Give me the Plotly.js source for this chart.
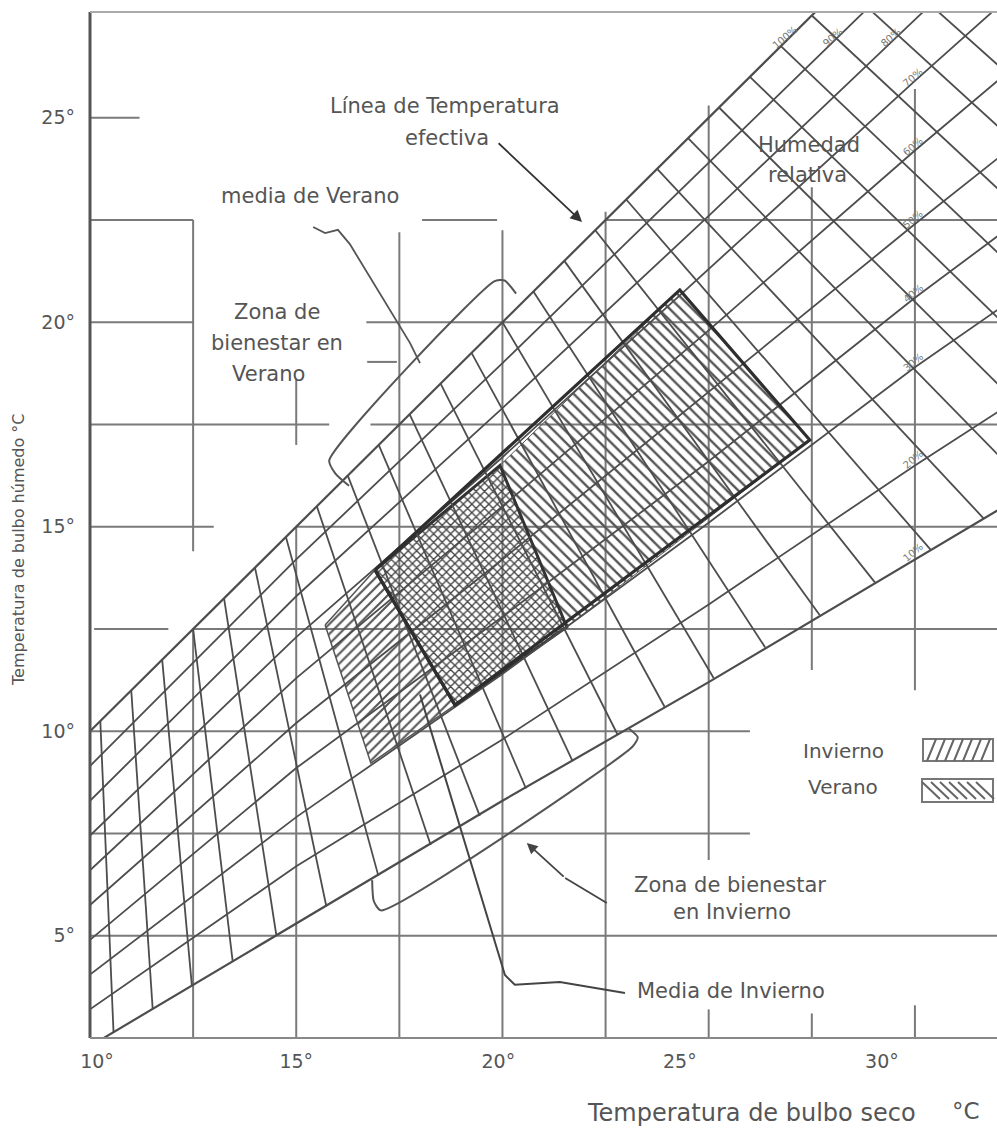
<!DOCTYPE html>
<html><head><meta charset="utf-8">
<script src="https://cdn.plot.ly/plotly-3.0.1.min.js"></script>
<style>html,body{margin:0;padding:0;background:#fff;}#chart{width:997px;height:1137px;}</style>
</head><body><div id="chart"></div>
<script>
// ---------- DATA ----------
// dry-bulb sample points for the relative-humidity curves
const dbSamples = [10, 15, 20, 25, 30, 32];
const rhLevels = [100, 90, 80, 70, 60, 50, 40, 30, 20, 10];
// wet-bulb temperature of each RH curve at dbSamples
const rh100 = [10.0, 15.0, 20.0, 25.0, 30.0, 32.0];
const rh90  = [9.15, 14.2, 19.0, 23.9, 28.8, 30.7];
const rh80  = [8.3, 13.3, 17.9, 22.6, 27.4, 29.3];
const rh70  = [7.45, 12.3, 16.7, 21.3, 25.9, 27.7];
const rh60  = [6.6, 11.3, 15.5, 19.8, 24.2, 25.9];
const rh50  = [5.75, 10.2, 14.2, 18.3, 22.4, 24.0];
const rh40  = [4.9, 9.1, 12.8, 16.6, 20.6, 22.1];
const rh30  = [4.05, 7.9, 11.4, 15.1, 18.9, 20.3];
const rh20  = [3.2, 6.7, 9.8, 13.1, 16.5, 17.8];
const rh10  = [2.3, 5.3, 8.3, 11.2, 14.2, 15.4];

// effective-temperature lines: start on saturation (t,t), end on the 10% curve
const etStart = [10.25, 11, 11.75, 12.5, 13.25, 14, 14.75, 15.5, 16.25, 17, 17.75, 18.5, 19.25, 20, 20.75, 21.5, 22.25, 23, 23.75, 24.5, 25.25, 26, 26.75, 27.5, 28.25, 29];
const etEndX = [10.57, 11.52, 12.47, 13.46, 14.52, 15.73, 16.99, 18.26, 19.45, 20.57, 21.70, 22.79, 23.93, 25.12, 26.37, 27.69, 29.03, 30.38, 31.67, 32.85, 33.94, 35.00, 36.06, 37.13, 38.21, 39.29];
const etEndY = [2.65, 3.21, 3.78, 4.37, 5.00, 5.72, 6.47, 7.22, 7.93, 8.60, 9.27, 9.92, 10.60, 11.30, 12.05, 12.84, 13.64, 14.44, 15.20, 15.90, 16.56, 17.18, 17.81, 18.45, 19.09, 19.74];

// comfort zones (corners, dry bulb / wet bulb)
const summerX = [16.91, 24.30, 27.45, 18.85];
const summerY = [13.94, 20.79, 17.12, 10.64];
const summerOnlyX = [19.94, 24.30, 27.45, 21.56];
const summerOnlyY = [16.50, 20.79, 17.12, 12.55];
const overlapX = [16.91, 19.94, 21.56, 18.85];
const overlapY = [13.94, 16.50, 12.55, 10.64];
const winterOnlyX = [15.70, 16.91, 18.85, 16.81];
const winterOnlyY = [12.60, 13.94, 10.64, 9.22];

// brackets
const summerBracketX = [16.28, 15.95, 15.80, 19.80, 20.05, 20.33];
const summerBracketY = [16.00, 16.30, 16.62, 21.00, 21.02, 20.70];
const winterBracketX = [16.84, 16.88, 17.05, 23.15, 23.28, 23.05];
const winterBracketY = [6.36, 5.85, 5.62, 9.62, 9.85, 10.08];

// leader lines
const mediaVeranoX = [15.41, 15.70, 16.01, 16.30, 17.76, 18.00];
const mediaVeranoY = [22.33, 22.18, 22.26, 21.91, 19.49, 19.00];
const mediaInviernoX = [22.97, 21.39, 20.30, 20.06, 18.00];
const mediaInviernoY = [3.60, 3.87, 3.80, 4.04, 10.90];
const zonaInviernoX = [22.53, 21.52];
const zonaInviernoY = [5.80, 6.41];
const stubX = [16.72, 17.44];
const stubY = [19.03, 19.03];

// background grid segments
const hGridY  = [25, 22.5, 22.5, 22.5, 20, 20, 17.5, 17.5, 15, 15, 12.5, 12.5, 10, 7.5, 5];
const hGridX0 = [10, 10, 18.05, 22.5, 10, 16.7, 10, 16.8, 10, 15, 10.1, 12.5, 10, 10, 10];
const hGridX1 = [11.2, 12.5, 19.87, 32, 12.5, 32, 15.8, 32, 13.0, 32, 11.9, 32, 26.0, 26.0, 32];
const vGridX  = [12.5, 12.5, 15, 15, 17.5, 20, 22.5, 25, 25, 27.5, 27.5, 30, 30];
const vGridY0 = [14.4, 2.5, 17.0, 2.5, 2.5, 2.5, 2.5, 6.85, 2.5, 11.5, 2.5, 11.0, 2.5];
const vGridY1 = [22.5, 12.5, 18.6, 15, 22.2, 22.25, 22.7, 25.3, 3.2, 23.3, 3.1, 25.7, 3.3];

// tick labels
const xTickVals = [10.17, 15, 19.9, 24.3, 29.2];
const xTickText = ['10°', '15°', '20°', '25°', '30°'];
const yTickVals = [5, 10, 15, 20, 25];
const yTickText = ['5°', '10°', '15°', '20°', '25°'];

// ---------- BUILD ----------
const rhCurves = [rh100, rh90, rh80, rh70, rh60, rh50, rh40, rh30, rh20, rh10];
const INK = '#4d4d4d';
const traces = [];
const base = {type: 'scatter', mode: 'lines', hoverinfo: 'skip', showlegend: false};

// grid
(function () {
  const gx = [], gy = [];
  hGridY.forEach((y, i) => { gx.push(hGridX0[i], hGridX1[i], null); gy.push(y, y, null); });
  vGridX.forEach((x, i) => { gx.push(x, x, null); gy.push(vGridY0[i], vGridY1[i], null); });
  traces.push(Object.assign({}, base, {x: gx, y: gy, line: {color: '#7a7a7a', width: 2}}));
})();

// zone fills
function closed(a) { return a.concat([a[0]]); }
traces.push(Object.assign({}, base, {x: closed(winterOnlyX), y: closed(winterOnlyY), fill: 'toself',
  fillcolor: 'rgba(0,0,0,0)', line: {color: '#555', width: 1.5},
  fillpattern: {shape: '/', size: 7, solidity: 0.3, fgcolor: '#555', bgcolor: 'rgba(0,0,0,0)'}}));
traces.push(Object.assign({}, base, {x: closed(summerOnlyX), y: closed(summerOnlyY), fill: 'toself',
  fillcolor: 'rgba(0,0,0,0)', line: {color: '#555', width: 1},
  fillpattern: {shape: '\\', size: 8, solidity: 0.3, fgcolor: '#555', bgcolor: 'rgba(0,0,0,0)'}}));
traces.push(Object.assign({}, base, {x: closed(overlapX), y: closed(overlapY), fill: 'toself',
  fillcolor: 'rgba(0,0,0,0)', line: {color: '#333', width: 3},
  fillpattern: {shape: 'x', size: 6, solidity: 0.4, fgcolor: '#444', bgcolor: 'rgba(0,0,0,0)'}}));

// RH curves
rhCurves.forEach((c, i) => {
  traces.push(Object.assign({}, base, {x: dbSamples, y: c, line: {color: INK, width: i === 0 || i === 9 ? 2.2 : 1.8}}));
});

// ET lines
(function () {
  const ex = [], ey = [];
  etStart.forEach((t, i) => { ex.push(t, etEndX[i], null); ey.push(t, etEndY[i], null); });
  traces.push(Object.assign({}, base, {x: ex, y: ey, line: {color: INK, width: 1.8}}));
})();

// summer zone outline
traces.push(Object.assign({}, base, {x: closed(summerX), y: closed(summerY), line: {color: '#2e2e2e', width: 3.2}}));

// brackets and leaders
traces.push(Object.assign({}, base, {x: summerBracketX, y: summerBracketY, line: {color: '#555', width: 2, shape: 'spline', smoothing: 0.6}}));
traces.push(Object.assign({}, base, {x: winterBracketX, y: winterBracketY, line: {color: '#555', width: 2, shape: 'spline', smoothing: 0.6}}));
traces.push(Object.assign({}, base, {x: mediaVeranoX, y: mediaVeranoY, line: {color: '#555', width: 1.8}}));
traces.push(Object.assign({}, base, {x: mediaInviernoX, y: mediaInviernoY, line: {color: '#444', width: 2}}));
traces.push(Object.assign({}, base, {x: zonaInviernoX, y: zonaInviernoY, line: {color: '#444', width: 1.8}}));
traces.push(Object.assign({}, base, {x: stubX, y: stubY, line: {color: '#777', width: 2}}));

// ---------- LAYOUT ----------
const L = 90, T = 12, W = 907, H = 1026;
function px(x) { return (x - L) / W; }
function py(y) { return (T + H - y) / H; }
const FONT = 'DejaVu Sans';
const TXT = '#555';
function label(text, x, y, size, extra) {
  return Object.assign({text: text, xref: 'paper', yref: 'paper', x: px(x), y: py(y), xanchor: 'center', yanchor: 'middle',
    showarrow: false, font: {family: FONT, size: size || 20, color: TXT}}, extra || {});
}
const annotations = [
  label('Línea de Temperatura', 445, 106, 21),
  label('efectiva', 447, 138, 21),
  label('Humedad', 809, 145, 21),
  label('relativa', 807, 175, 21),
  label('media de Verano', 310, 196, 21),
  label('Zona de', 277, 312, 21),
  label('bienestar en', 277, 343, 21),
  label('Verano', 268, 374, 21),
  label('Invierno', 843, 751, 20),
  label('Verano', 843, 787, 20),
  label('Zona de bienestar', 730, 885, 21),
  label('en Invierno', 732, 912, 21),
  label('Media de Invierno', 731, 991, 21),
  label('Temperatura de bulbo seco', 751, 1113, 24),
  label('°C', 966, 1111, 23),
  label('Temperatura de bulbo húmedo °C', 18, 550, 16, {textangle: -90}),
  // arrows
  {x: 21.93, y: 22.45, ax: 19.87, ay: 24.41, xref: 'x', yref: 'y', axref: 'x', ayref: 'y', text: '', showarrow: true,
   arrowhead: 2, arrowsize: 1.3, arrowwidth: 1.8, arrowcolor: '#333'},
  {x: 20.59, y: 7.27, ax: 21.52, ay: 6.41, xref: 'x', yref: 'y', axref: 'x', ayref: 'y', text: '', showarrow: true,
   arrowhead: 2, arrowsize: 1.2, arrowwidth: 1.8, arrowcolor: '#444'}
];
// small relative-humidity labels near the curve ends
function interp(xs, ys, x) {
  for (let i = 0; i < xs.length - 1; i++) if (x >= xs[i] && x <= xs[i + 1]) return ys[i] + (ys[i + 1] - ys[i]) * (x - xs[i]) / (xs[i + 1] - xs[i]);
  return ys[ys.length - 1];
}
function xAt(xs, ys, y) {
  for (let i = 0; i < ys.length - 1; i++) if (y >= ys[i] && y <= ys[i + 1]) return xs[i] + (xs[i + 1] - xs[i]) * (y - ys[i]) / (ys[i + 1] - ys[i]);
  return xs[xs.length - 1];
}
rhCurves.forEach((c, i) => {
  let lx = 29.7, ly = interp(dbSamples, c, lx);
  if (ly > 26.6) { ly = 26.6; lx = xAt(dbSamples, c, ly); }
  annotations.push({text: rhLevels[i] + '%', x: lx + 0.25, y: ly + 0.35, xref: 'x', yref: 'y', showarrow: false,
    textangle: -40, font: {family: FONT, size: 10, color: '#777'}});
});

function hatchPath(x0, y0, x1, y1, dir) {
  let p = '';
  for (let x = x0 + 4; x < x1 - 4; x += 9) {
    if (dir > 0) p += 'M' + px(x) + ',' + py(y1) + 'L' + px(x + 9) + ',' + py(y0) + ' ';
    else p += 'M' + px(x - 4) + ',' + py(y0 + 3) + 'L' + px(x + 14) + ',' + py(y1 - 3) + ' ';
  }
  return p;
}
const shapes = [
  {type: 'line', xref: 'paper', yref: 'paper', x0: 0, x1: 0, y0: 0, y1: 1, line: {color: '#555', width: 3}},
  {type: 'line', xref: 'paper', yref: 'paper', x0: 0, x1: 1, y0: 1, y1: 1, line: {color: '#aaa', width: 2}},
  {type: 'line', xref: 'paper', yref: 'paper', x0: 0, x1: 1, y0: 0, y1: 0, line: {color: '#888', width: 2}},
  {type: 'rect', xref: 'paper', yref: 'paper', x0: px(923), x1: px(993), y0: py(761), y1: py(739), line: {color: '#777', width: 2}},
  {type: 'path', xref: 'paper', yref: 'paper', path: hatchPath(923, 739, 993, 761, 1), line: {color: '#666', width: 2}},
  {type: 'rect', xref: 'paper', yref: 'paper', x0: px(922), x1: px(993), y0: py(802), y1: py(779), line: {color: '#777', width: 2}},
  {type: 'path', xref: 'paper', yref: 'paper', path: hatchPath(922, 779, 993, 802, -1), line: {color: '#666', width: 2}}
];

const layout = {
  width: 997, height: 1137,
  margin: {l: L, r: 0, t: T, b: 1137 - T - H, pad: 0},
  paper_bgcolor: '#fff', plot_bgcolor: '#fff',
  showlegend: false,
  xaxis: {range: [10, 31.99], tickvals: xTickVals, ticktext: xTickText, showgrid: false, zeroline: false, showline: false,
    ticks: '', ticklabelstandoff: 10, tickfont: {family: FONT, size: 19, color: TXT}, fixedrange: true},
  yaxis: {range: [2.5, 27.585], tickvals: yTickVals, ticktext: yTickText, showgrid: false, zeroline: false, showline: false,
    ticks: '', ticklabelstandoff: 14, tickfont: {family: FONT, size: 19, color: TXT}, fixedrange: true},
  annotations: annotations,
  shapes: shapes
};
Plotly.newPlot('chart', traces, layout, {displayModeBar: false, staticPlot: true});
</script></body></html>
